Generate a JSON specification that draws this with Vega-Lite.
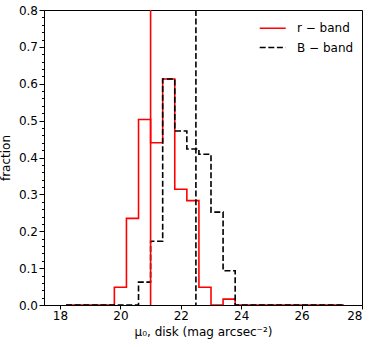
{
  "$schema": "https://vega.github.io/schema/vega-lite/v6.json",
  "autosize": {"type": "none"},
  "width": 318,
  "height": 295,
  "padding": {"left": 44, "top": 10, "right": 12, "bottom": 42},
  "background": "white",
  "config": {
    "font": "DejaVu Sans",
    "view": {"stroke": "black", "strokeWidth": 1},
    "axis": {
      "domainColor": "black",
      "tickColor": "black",
      "labelColor": "black",
      "titleColor": "black",
      "labelFont": "DejaVu Sans",
      "titleFont": "DejaVu Sans",
      "labelFontSize": 12,
      "titleFontSize": 12,
      "titleFontWeight": "normal",
      "grid": false
    },
    "legend": {"labelFont": "DejaVu Sans", "labelFontSize": 12, "labelColor": "black"}
  },
  "datasets": {
    "hist": [
      {"band": "r − band", "mu": 18.2, "fraction": 0},
      {"band": "r − band", "mu": 18.6, "fraction": 0},
      {"band": "r − band", "mu": 19.0, "fraction": 0},
      {"band": "r − band", "mu": 19.4, "fraction": 0},
      {"band": "r − band", "mu": 19.8, "fraction": 0.048},
      {"band": "r − band", "mu": 20.2, "fraction": 0.235},
      {"band": "r − band", "mu": 20.6, "fraction": 0.503},
      {"band": "r − band", "mu": 21.0, "fraction": 0.44},
      {"band": "r − band", "mu": 21.4, "fraction": 0.613},
      {"band": "r − band", "mu": 21.8, "fraction": 0.314},
      {"band": "r − band", "mu": 22.2, "fraction": 0.283},
      {"band": "r − band", "mu": 22.6, "fraction": 0.048},
      {"band": "r − band", "mu": 23.0, "fraction": 0},
      {"band": "r − band", "mu": 23.4, "fraction": 0.016},
      {"band": "r − band", "mu": 23.8, "fraction": 0},
      {"band": "r − band", "mu": 24.2, "fraction": 0},
      {"band": "r − band", "mu": 24.6, "fraction": 0},
      {"band": "r − band", "mu": 25.0, "fraction": 0},
      {"band": "r − band", "mu": 25.4, "fraction": 0},
      {"band": "r − band", "mu": 25.8, "fraction": 0},
      {"band": "r − band", "mu": 26.2, "fraction": 0},
      {"band": "r − band", "mu": 26.6, "fraction": 0},
      {"band": "r − band", "mu": 27.0, "fraction": 0},
      {"band": "r − band", "mu": 27.4, "fraction": 0},
      {"band": "B − band", "mu": 18.2, "fraction": 0},
      {"band": "B − band", "mu": 18.6, "fraction": 0},
      {"band": "B − band", "mu": 19.0, "fraction": 0},
      {"band": "B − band", "mu": 19.4, "fraction": 0},
      {"band": "B − band", "mu": 19.8, "fraction": 0},
      {"band": "B − band", "mu": 20.2, "fraction": 0},
      {"band": "B − band", "mu": 20.6, "fraction": 0.062},
      {"band": "B − band", "mu": 21.0, "fraction": 0.173},
      {"band": "B − band", "mu": 21.4, "fraction": 0.613},
      {"band": "B − band", "mu": 21.8, "fraction": 0.472},
      {"band": "B − band", "mu": 22.2, "fraction": 0.423},
      {"band": "B − band", "mu": 22.6, "fraction": 0.409},
      {"band": "B − band", "mu": 23.0, "fraction": 0.252},
      {"band": "B − band", "mu": 23.4, "fraction": 0.093},
      {"band": "B − band", "mu": 23.8, "fraction": 0},
      {"band": "B − band", "mu": 24.2, "fraction": 0},
      {"band": "B − band", "mu": 24.6, "fraction": 0},
      {"band": "B − band", "mu": 25.0, "fraction": 0},
      {"band": "B − band", "mu": 25.4, "fraction": 0},
      {"band": "B − band", "mu": 25.8, "fraction": 0},
      {"band": "B − band", "mu": 26.2, "fraction": 0},
      {"band": "B − band", "mu": 26.6, "fraction": 0},
      {"band": "B − band", "mu": 27.0, "fraction": 0},
      {"band": "B − band", "mu": 27.4, "fraction": 0}
    ],
    "medians": [
      {"band": "r − band", "mu": 21.0},
      {"band": "B − band", "mu": 22.5}
    ]
  },
  "layer": [
    {
      "data": {"name": "hist"},
      "mark": {"type": "line", "interpolate": "step-after", "strokeWidth": 1.6, "clip": true},
      "encoding": {
        "x": {
          "field": "mu", "type": "quantitative",
          "scale": {"domain": [17.47, 28], "nice": false, "zero": false},
          "axis": {"values": [18, 20, 22, 24, 26, 28], "tickSize": 4, "labelPadding": 1.5, "titlePadding": 5,
                   "title": "μ₀, disk (mag arcsec⁻²)"}
        },
        "y": {
          "field": "fraction", "type": "quantitative",
          "scale": {"domain": [0, 0.8], "nice": false},
          "axis": {
            "values": [0, 0.02, 0.04, 0.06, 0.08, 0.1, 0.12, 0.14, 0.16, 0.18, 0.2, 0.22, 0.24, 0.26, 0.28, 0.3, 0.32, 0.34, 0.36, 0.38, 0.4, 0.42, 0.44, 0.46, 0.48, 0.5, 0.52, 0.54, 0.56, 0.58, 0.6, 0.62, 0.64, 0.66, 0.68, 0.7, 0.72, 0.74, 0.76, 0.78, 0.8],
            "labelExpr": "round(datum.value*100) % 10 == 0 ? format(datum.value, '.1f') : ''",
            "labelOverlap": false,
            "tickSize": {"condition": {"test": "round(datum.value*100) % 10 == 0", "value": 5}, "value": 2.5},
            "labelPadding": 1.5,
            "titlePadding": 6,
            "title": "fraction"
          }
        },
        "color": {
          "field": "band", "type": "nominal",
          "scale": {"domain": ["r − band", "B − band"], "range": ["red", "black"]},
          "legend": {
            "title": null, "orient": "none", "legendX": 217.2, "legendY": 6.8,
            "symbolType": "M-2,0H2", "symbolSize": 169, "symbolStrokeWidth": 1.6,
            "labelOffset": 16.8, "rowPadding": 5.2, "padding": 4
          }
        },
        "strokeDash": {
          "field": "band", "type": "nominal",
          "scale": {"domain": ["r − band", "B − band"], "range": [[1, 0], [6, 2.6]]},
          "legend": {
            "title": null, "orient": "none", "legendX": 217.2, "legendY": 6.8,
            "symbolType": "M-2,0H2", "symbolSize": 169, "symbolStrokeWidth": 1.6,
            "labelOffset": 16.8, "rowPadding": 5.2, "padding": 4
          }
        },
        "order": {"field": "mu"}
      }
    },
    {
      "data": {"name": "medians"},
      "mark": {"type": "rule", "strokeWidth": 1.6},
      "encoding": {
        "x": {"field": "mu", "type": "quantitative"},
        "color": {"field": "band", "type": "nominal"},
        "strokeDash": {"field": "band", "type": "nominal"}
      }
    }
  ]
}
